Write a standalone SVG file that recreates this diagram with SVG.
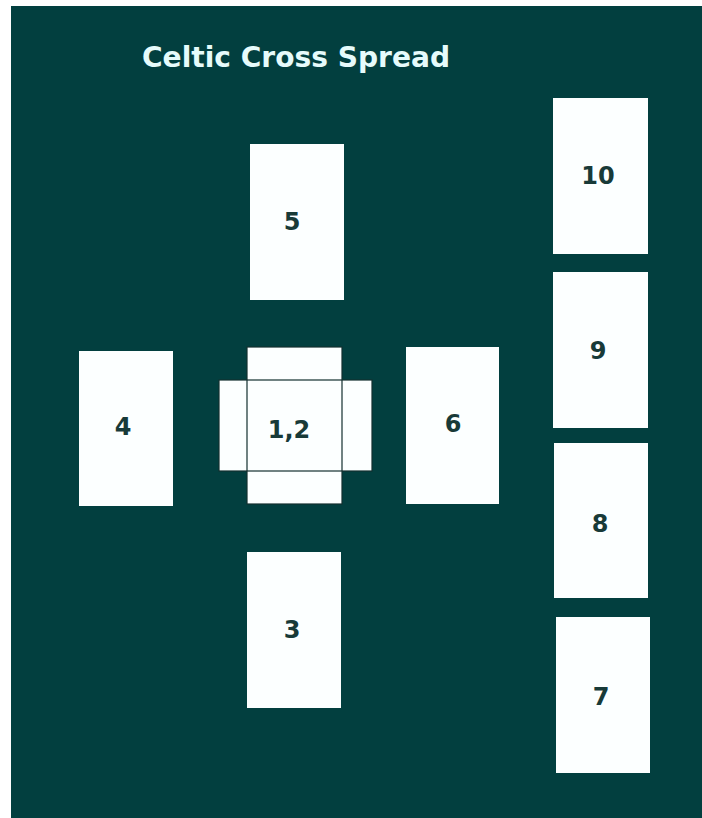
<svg xmlns="http://www.w3.org/2000/svg" width="702" height="818" viewBox="0 0 702 818">
<style>
.card{fill:#fcffff}
.edge{fill:none;stroke:#13302f;stroke-width:1.2}
.num{font-family:"DejaVu Sans",sans-serif;font-weight:bold;font-size:24px;fill:#183a38;text-anchor:middle;dominant-baseline:central}
.title{font-family:"DejaVu Sans",sans-serif;font-weight:bold;font-size:29px;fill:#e6fbfb;text-anchor:middle}
</style>
<rect x="0" y="0" width="702" height="818" fill="#ffffff"/>
<rect x="11" y="6" width="691" height="812" fill="#023f3f"/>
<text class="title" x="296" y="67" textLength="308" lengthAdjust="spacingAndGlyphs">Celtic Cross Spread</text>
<g id="card-1-2">
<rect class="card" x="247" y="347" width="95" height="157"/>
<rect class="card" x="219" y="380" width="153" height="91"/>
<rect class="edge" x="247" y="347" width="95" height="157"/>
<rect class="edge" x="219" y="380" width="153" height="91"/>
<text class="num" x="289" y="430">1,2</text>
</g>
<g id="card-3">
<rect class="card" x="247" y="552" width="94" height="156"/>
<text class="num" x="292" y="630">3</text>
</g>
<g id="card-4">
<rect class="card" x="79" y="351" width="94" height="155"/>
<text class="num" x="123" y="427">4</text>
</g>
<g id="card-5">
<rect class="card" x="250" y="144" width="94" height="156"/>
<text class="num" x="292" y="222">5</text>
</g>
<g id="card-6">
<rect class="card" x="406" y="347" width="93" height="157"/>
<text class="num" x="453" y="424">6</text>
</g>
<g id="card-7">
<rect class="card" x="556" y="617" width="94" height="156"/>
<text class="num" x="601" y="697">7</text>
</g>
<g id="card-8">
<rect class="card" x="554" y="443" width="94" height="155"/>
<text class="num" x="600" y="524">8</text>
</g>
<g id="card-9">
<rect class="card" x="553" y="272" width="95" height="156"/>
<text class="num" x="598" y="351">9</text>
</g>
<g id="card-10">
<rect class="card" x="553" y="98" width="95" height="156"/>
<text class="num" x="598" y="176">10</text>
</g>
<g id="connectors"></g>
</svg>
